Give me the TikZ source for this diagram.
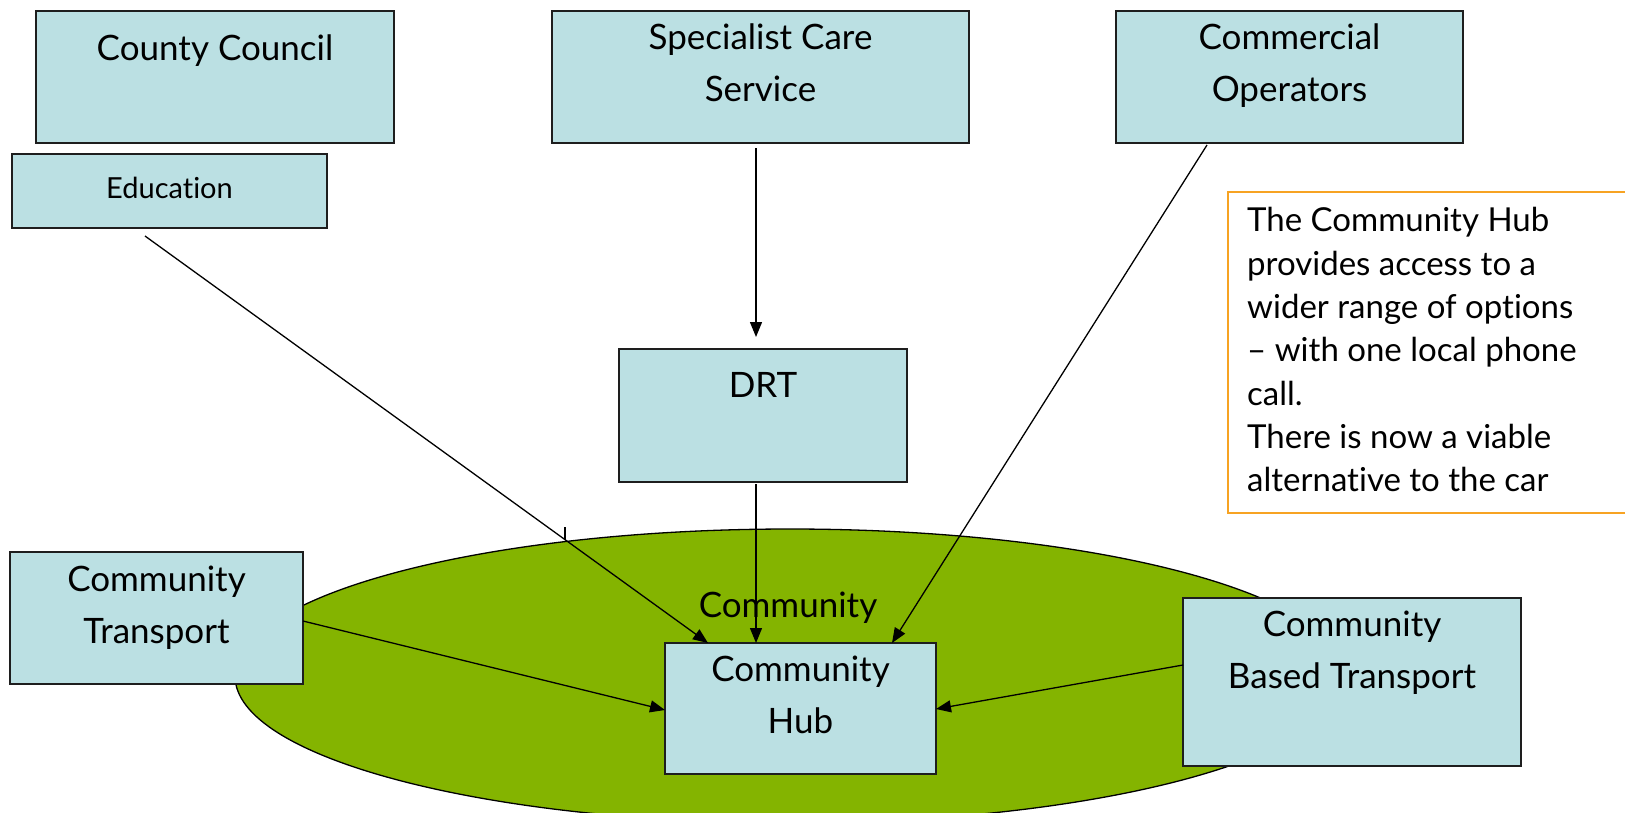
\documentclass[tikz,border=0pt]{standalone}
\usepackage{fontspec}
\setmainfont{Lato}[Ligatures=NoCommon]
\usetikzlibrary{arrows.meta,calc,shapes.geometric}

\definecolor{boxfill}{RGB}{187,224,227}
\definecolor{areagreen}{RGB}{132,180,0}
\definecolor{noteorange}{RGB}{247,163,35}
\definecolor{boxline}{RGB}{30,30,30}

\tikzset{
  box/.style={draw=boxline, line width=1.8pt, fill=boxfill, rectangle,
              inner sep=0pt, outer sep=0pt},
  % labels are placed by the baseline of their last line
  label/.style={anchor=base, align=center, inner sep=0pt,
                font=\fontsize{35}{52}\selectfont},
  arr/.style={line width=1.3pt, -{Triangle[length=15pt,width=12pt]}},
}

\begin{document}
\begin{tikzpicture}[x=1pt,y=-1pt]
\useasboundingbox (0,0) rectangle (1625,812);
\clip (0,0) rectangle (1625,812);

% the community area
\node[ellipse, draw=black, line width=1.3pt, fill=areagreen,
      minimum width=1110pt, minimum height=294pt, inner sep=0pt] (area) at (790,676) {};
\node[label] (arealbl) at (788,617) {Community};
\draw[line width=1.2pt] (565,527) -- (565,540);

% boxes
\node[box, minimum width=358pt, minimum height=132pt] (cc)   at (215,77) {};
\node[box, minimum width=315pt, minimum height=74pt]  (edu)  at (169.5,191) {};
\node[box, minimum width=417pt, minimum height=132pt] (spec) at (760.5,77) {};
\node[box, minimum width=347pt, minimum height=132pt] (comm) at (1289.5,77) {};
\node[box, minimum width=288pt, minimum height=133pt] (drt)  at (763,415.5) {};
\node[box, minimum width=293pt, minimum height=132pt] (ct)   at (156.5,618) {};
\node[box, minimum width=271pt, minimum height=131pt] (hub)  at (800.5,708.5) {};
\node[box, minimum width=338pt, minimum height=168pt] (cbt)  at (1352,682) {};

% box labels
\node[label] (cctxt)   at (215,60)    {County Council};
\node[label, font=\fontsize{29}{34}\selectfont] (edutxt) at (169.5,198) {Education};
\node[label] (spectxt) at (760.5,101) {Specialist Care\\Service};
\node[label] (commtxt) at (1289.5,101) {Commercial\\Operators};
\node[label] (drttxt)  at (763,397)   {DRT};
\node[label] (cttxt)   at (156.5,643) {Community\\Transport};
\node[label] (hubtxt)  at (800.5,733) {Community\\Hub};
\node[label] (cbttxt)  at (1352,688)  {Community\\Based Transport};

% note
\node[draw=noteorange, line width=1.5pt, fill=white, rectangle, inner sep=0pt,
      minimum width=412pt, minimum height=321pt] (note) at (1434,352.5) {};
\node[anchor=base west, align=left, inner sep=0pt,
      font=\fontsize{33}{43.3}\selectfont] (notetxt) at (1247,491.7)
  {The Community Hub\\provides access to a\\wider range of options\\%
   -- with one local phone\\call.\\There is now a viable\\alternative to the car};

% connectors
\coordinate (eduout)  at ($(edu.south west)+(133,8)$);
\coordinate (specout) at ($(spec.south west)+(204,5)$);
\coordinate (drtin)   at ($(drt.north west)+(137,-12)$);
\coordinate (drtout)  at ($(drt.south west)+(137,2)$);
\coordinate (commout) at ($(comm.south west)+(91,2)$);
\coordinate (ctout)   at ($(ct.north east)+(0,69)$);
\coordinate (cbtout)  at ($(cbt.north west)+(0,67)$);

\draw[arr] (eduout)  -- ($(hub.north west)+(43,0)$);
\draw[arr] (specout) -- (drtin);
\draw[arr] (drtout)  -- ($(hub.north west)+(91,0)$);
\draw[arr] (commout) -- ($(hub.north west)+(227,0)$);
\draw[arr] (ctout)   -- ($(hub.north west)+(0,67)$);
\draw[arr] (cbtout)  -- ($(hub.north east)+(0,66)$);
\end{tikzpicture}
\end{document}
